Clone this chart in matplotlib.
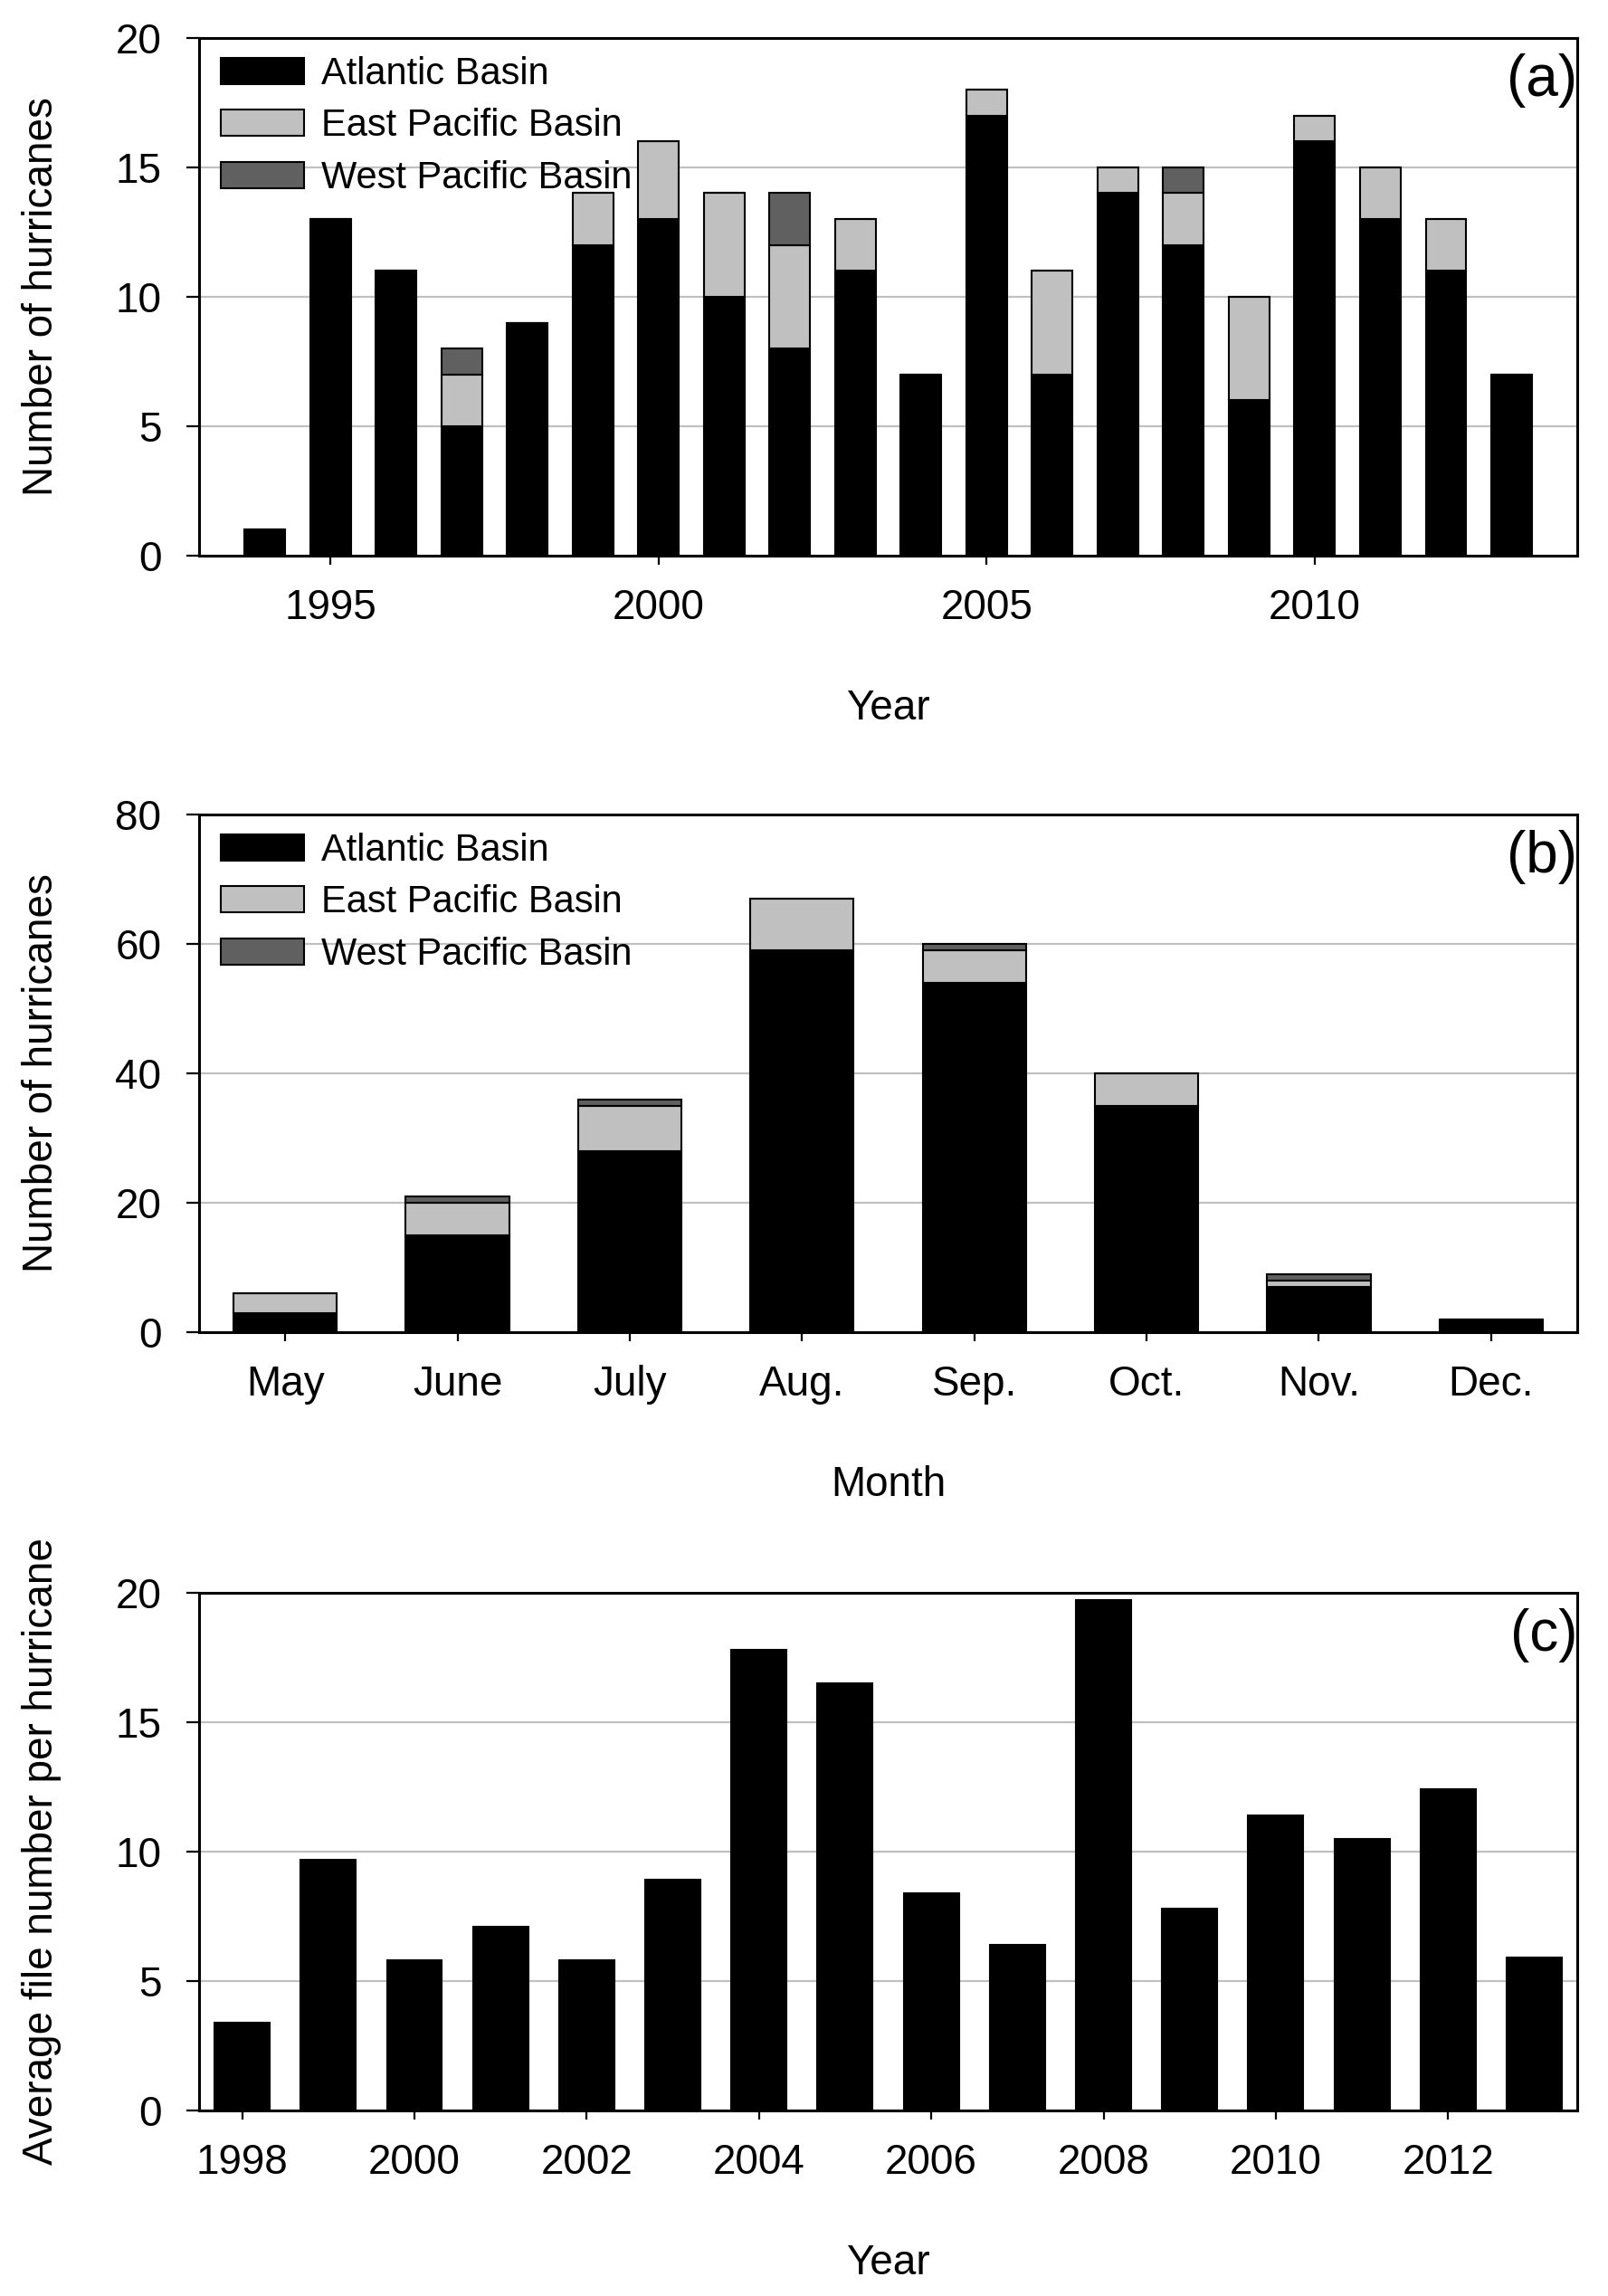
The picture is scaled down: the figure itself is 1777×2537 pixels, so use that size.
import numpy as np
import matplotlib.pyplot as plt

plt.rcParams['font.family'] = ['Liberation Sans', 'DejaVu Sans']

# (a) hurricanes per year
years_a = list(range(1994, 2014))
atlantic_a = [1, 13, 11, 5, 9, 12, 13, 10, 8, 11, 7, 17, 7, 14, 12, 6, 16, 13, 11, 7]
east_a = [0, 0, 0, 2, 0, 2, 3, 4, 4, 2, 0, 1, 4, 1, 2, 4, 1, 2, 2, 0]
west_a = [0, 0, 0, 1, 0, 0, 0, 0, 2, 0, 0, 0, 0, 0, 1, 0, 0, 0, 0, 0]

# (b) hurricanes per month
months = ['May', 'June', 'July', 'Aug.', 'Sep.', 'Oct.', 'Nov.', 'Dec.']
atlantic_m = [3, 15, 28, 59, 54, 35, 7, 2]
east_m = [3, 5, 7, 8, 5, 5, 1, 0]
west_m = [0, 1, 1, 0, 1, 0, 1, 0]

# (c) average file number per hurricane
years_c = list(range(1998, 2014))
avg_files = [3.4, 9.7, 5.8, 7.1, 5.8, 8.9, 17.8, 16.5, 8.4, 6.4, 19.7, 7.8, 11.4, 10.5, 12.4, 5.9]

basin_names = ['Atlantic Basin', 'East Pacific Basin', 'West Pacific Basin']
basin_colors = ['black', '#c0c0c0', '#606060']

TICK_FS = 33
LABEL_FS = 33
LEG_FS = 30
PANEL_FS = 46

fig = plt.figure(figsize=(17.77, 25.37), dpi=100)
left, width, height = 0.1238, 0.8571, 0.2255
ax_a = fig.add_axes([left, 0.7580, width, height])
ax_b = fig.add_axes([left, 0.4198, width, height])
ax_c = fig.add_axes([left, 0.0808, width, height])


def style_axes(ax, panel, xlabel, ylabel):
    for sp in ax.spines.values():
        sp.set_linewidth(2.2)
    ax.yaxis.grid(True, color='#c0c0c0', linewidth=1.6)
    ax.set_axisbelow(True)
    ax.tick_params(axis='x', direction='out', length=7, width=1.6, pad=19, labelsize=TICK_FS)
    ax.tick_params(axis='y', direction='out', length=10, width=1.6, pad=20, labelsize=TICK_FS)
    ax.set_xlabel(xlabel, fontsize=LABEL_FS)
    ax.set_ylabel(ylabel, fontsize=LABEL_FS)
    ax.xaxis.label.set_verticalalignment('center')
    ax.yaxis.label.set_verticalalignment('center')
    ax.xaxis.set_label_coords(0.5, -0.296)
    ax.yaxis.set_label_coords(-0.114, 0.5)
    ax.text(1.0, 0.918, panel, transform=ax.transAxes, ha='right', va='center',
            fontsize=PANEL_FS)


def stacked(ax, x, a, e, w, width):
    a = np.array(a)
    e = np.array(e)
    w = np.array(w)
    bars = []
    bars.append(ax.bar(x, a, width, color=basin_colors[0], edgecolor='black', linewidth=1.5))
    bars.append(ax.bar(x, e, width, bottom=a, color=basin_colors[1], edgecolor='black', linewidth=1.5))
    bars.append(ax.bar(x, w, width, bottom=a + e, color=basin_colors[2], edgecolor='black', linewidth=1.5))
    ax.legend(bars, basin_names, loc='upper left', bbox_to_anchor=(0.016, 0.965),
              frameon=False, fontsize=LEG_FS, handlelength=2.2, handleheight=0.7,
              handletextpad=0.45, labelspacing=0.42, borderpad=0, borderaxespad=0)


# panel (a)
stacked(ax_a, years_a, atlantic_a, east_a, west_a, 0.62)
ax_a.set_xlim(1993.0, 2014.0)
ax_a.set_ylim(0, 20)
ax_a.set_xticks([1995, 2000, 2005, 2010])
ax_a.set_yticks([0, 5, 10, 15, 20])
style_axes(ax_a, '(a)', 'Year', 'Number of hurricanes')

# panel (b)
xm = np.arange(len(months))
stacked(ax_b, xm, atlantic_m, east_m, west_m, 0.6)
ax_b.set_xlim(-0.5, 7.5)
ax_b.set_ylim(0, 80)
ax_b.set_xticks(xm)
ax_b.set_xticklabels(months)
ax_b.set_yticks([0, 20, 40, 60, 80])
style_axes(ax_b, '(b)', 'Month', 'Number of hurricanes')

# panel (c)
ax_c.bar(years_c, avg_files, 0.64, color='black', edgecolor='black', linewidth=1.5)
ax_c.set_xlim(1997.5, 2013.5)
ax_c.set_ylim(0, 20)
ax_c.set_xticks(list(range(1998, 2014, 2)))
ax_c.set_yticks([0, 5, 10, 15, 20])
style_axes(ax_c, '(c)', 'Year', 'Average file number per hurricane')

fig.savefig('out.png', dpi=100)
